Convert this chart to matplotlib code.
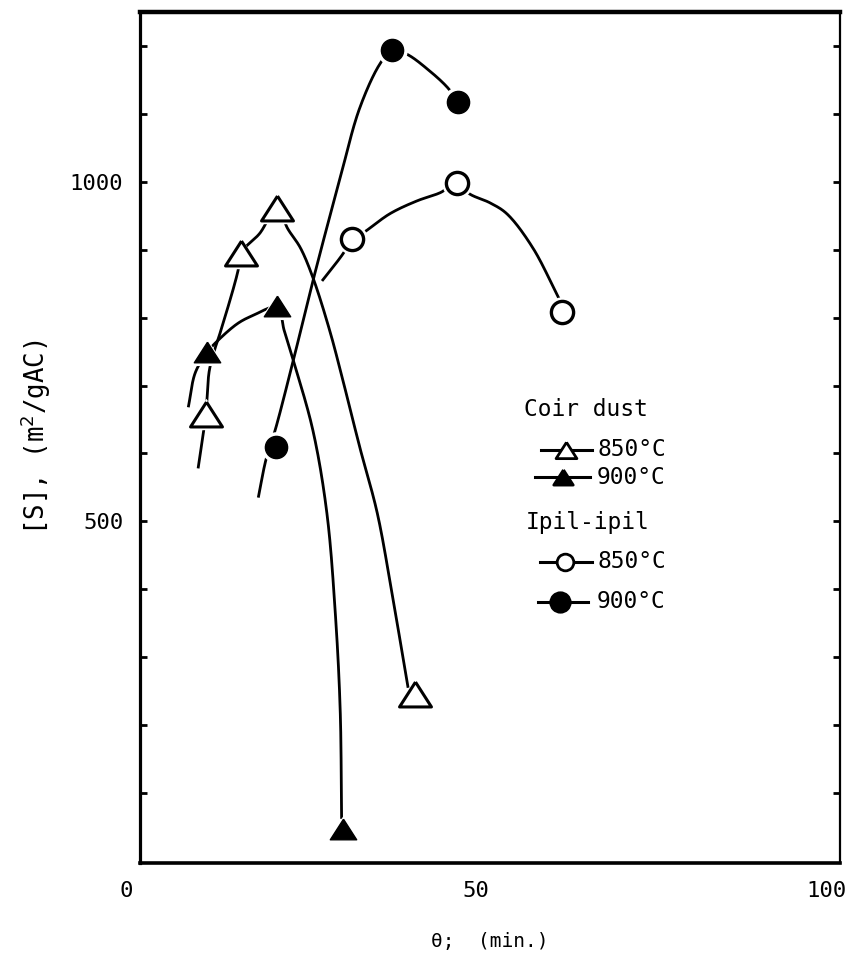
import numpy as np
import matplotlib
matplotlib.use('Agg')
import matplotlib.pyplot as plt
import matplotlib.transforms as mtransforms

#####################
# measured points (theta in min., surface area in m2/gAC)
coir850_x = [9.4, 14.4, 19.6, 39.3]
coir850_y = [658, 895, 962, 246]
coir900_x = [9.6, 19.6, 29.0]
coir900_y = [749, 817, 47]
ipil850_x = [30.3, 45.3, 60.3]
ipil850_y = [916, 998, 808]
ipil900_x = [19.4, 36.0, 45.4]
ipil900_y = [609, 1194, 1118]

# hand drawn trend curves
coir850_cx = [8.3, 9.4, 9.9, 10.7, 11.4, 14.0, 14.4, 17.1, 19.6, 21.1, 22.9,
              24.7, 27.1, 29.0, 31.4, 33.9, 36.1, 38.3]
coir850_cy = [578, 658, 722, 754, 776, 869, 895, 924, 962, 931, 903,
              859, 781, 707, 609, 512, 388, 255]
coir900_cx = [6.9, 7.9, 9.6, 10.7, 13.9, 16.1, 19.6, 20.6, 21.9, 24.7, 26.7,
              27.9, 28.6, 28.8]
coir900_cy = [668, 719, 749, 762, 791, 803, 815, 781, 737, 634, 512,
              365, 222, 62]
ipil850_cx = [26.0, 29.0, 30.3, 31.9, 35.7, 39.6, 42.9, 45.3, 47.1, 50.0,
              52.4, 56.1, 60.0]
ipil850_cy = [854, 894, 916, 925, 953, 972, 984, 998, 982, 969,
              953, 903, 825]
ipil900_cx = [16.9, 17.9, 18.6, 19.3, 21.9, 24.7, 28.6, 31.4, 34.3, 36.0,
              38.1, 41.4, 44.0, 45.4]
ipil900_cy = [535, 587, 612, 634, 737, 854, 1006, 1109, 1174, 1194,
              1188, 1163, 1138, 1118]

xtick_vals = [0, 50, 100]
ytick_labels = {500: '500', 1000: '1000'}
#####################

plt.rcParams['font.family'] = ['DejaVu Sans Mono', 'DejaVu Sans']

# rough pixel scale of the axes, so the smoothing works in screen-ish units
SX, SY = 7.0, 0.68


def smooth(xs, ys, n=30, alpha=0.5):
    # centripetal catmull-rom through the traced points, only for drawing
    P = np.column_stack([np.array(xs)*SX, np.array(ys)*SY]).astype(float)
    P = np.vstack([2*P[0] - P[1], P, 2*P[-1] - P[-2]])
    out = []
    for i in range(1, len(P) - 2):
        p0, p1, p2, p3 = P[i-1], P[i], P[i+1], P[i+2]
        t0 = 0.0
        t1 = t0 + np.linalg.norm(p1 - p0)**alpha
        t2 = t1 + np.linalg.norm(p2 - p1)**alpha
        t3 = t2 + np.linalg.norm(p3 - p2)**alpha
        t = np.linspace(t1, t2, n)[:, None]
        a1 = (t1 - t)/(t1 - t0)*p0 + (t - t0)/(t1 - t0)*p1
        a2 = (t2 - t)/(t2 - t1)*p1 + (t - t1)/(t2 - t1)*p2
        a3 = (t3 - t)/(t3 - t2)*p2 + (t - t2)/(t3 - t2)*p3
        b1 = (t2 - t)/(t2 - t0)*a1 + (t - t0)/(t2 - t0)*a2
        b2 = (t3 - t)/(t3 - t1)*a2 + (t - t1)/(t3 - t1)*a3
        c = (t2 - t)/(t2 - t1)*b1 + (t - t1)/(t2 - t1)*b2
        out.append(c if i == 1 else c[1:])
    out = np.vstack(out)
    return out[:, 0]/SX, out[:, 1]/SY


tri = [(0, 0.78), (-1, -0.78), (1, -0.78), (0, 0.78)]

fig = plt.figure(figsize=(8.47, 9.65), dpi=100)
ax = fig.add_axes([140/847, 1 - 863/965, 700/847, 851/965])

lw = 2.0
for cx, cy in [(coir850_cx, coir850_cy), (coir900_cx, coir900_cy),
               (ipil850_cx, ipil850_cy), (ipil900_cx, ipil900_cy)]:
    sx, sy = smooth(cx, cy)
    ax.plot(sx, sy, color='black', lw=lw, zorder=2, solid_capstyle='butt')

series = [
    (coir850_x, coir850_y, tri, 23, 'white', 2.2),
    (coir900_x, coir900_y, tri, 19, 'black', 1.0),
    (ipil850_x, ipil850_y, 'o', 16, 'white', 2.4),
    (ipil900_x, ipil900_y, 'o', 16, 'black', 1.0),
]
# white halo under each marker: the drawn lines stop short of the symbols
for x, y, mk, ms, fc, mew in series:
    ax.plot(x, y, ls='none', marker=mk, ms=ms + 6, mfc='white', mec='white',
            mew=0, zorder=2.5)
for x, y, mk, ms, fc, mew in series:
    ax.plot(x, y, ls='none', marker=mk, ms=ms, mfc=fc, mec='black',
            mew=mew, zorder=3)

# legend, drawn by hand like the original
def fx(px):
    return (px - 140) / 700.

def fy(py):
    return (863 - py) / 851.

tr = ax.transAxes
fs_leg = 16.5
ax.text(fx(524), fy(410), 'Coir dust', transform=tr, fontsize=fs_leg,
        va='center', ha='left')
ax.text(fx(526), fy(522), 'Ipil-ipil', transform=tr, fontsize=fs_leg,
        va='center', ha='left')
entries = [
    (450, 541, 592, 566, tri, 15, 'white', '850°C'),
    (477, 535, 590, 563, tri, 14, 'black', '900°C'),
    (562, 540, 592, 565, 'o', 12, 'white', '850°C'),
    (602, 538, 588, 560, 'o', 14, 'black', '900°C'),
]
for py, x0, x1, xm, mk, ms, fc, lab in entries:
    ax.plot([fx(x0), fx(x1)], [fy(py), fy(py)], color='black', lw=2.2,
            transform=tr, clip_on=False, zorder=4)
    ax.plot([fx(xm)], [fy(py)], marker=mk, ms=ms, mfc=fc, mec='black',
            mew=2, transform=tr, clip_on=False, zorder=5)
    ax.text(fx(597), fy(py), lab, transform=tr, fontsize=fs_leg,
            va='center', ha='left')

ax.set_xlim(0, 100)
ax.set_ylim(-3, 1250)

ax.set_xticks(xtick_vals)
ax.set_xticklabels([str(v) for v in xtick_vals], fontsize=16)
ax.tick_params(axis='x', length=0, pad=13)
offset = mtransforms.ScaledTranslation(-14/100., 0, fig.dpi_scale_trans)
for lab in ax.get_xticklabels():
    lab.set_transform(lab.get_transform() + offset)

yt = np.arange(100, 1201, 100)
ax.set_yticks(yt)
ax.set_yticklabels([ytick_labels.get(int(v), '') for v in yt], fontsize=16)
ax.tick_params(axis='y', direction='in', length=5, width=2, pad=12,
               right=True)

for side, w in [('left', 2.3), ('bottom', 2.6), ('top', 3.2), ('right', 1.6)]:
    ax.spines[side].set_linewidth(w)

ax.set_xlabel('θ;  (min.)', fontsize=14, labelpad=22)
ax.set_ylabel('[S], (m$^2$/gAC)', fontsize=18.5, labelpad=12)

plt.savefig('out.png', dpi=100)
